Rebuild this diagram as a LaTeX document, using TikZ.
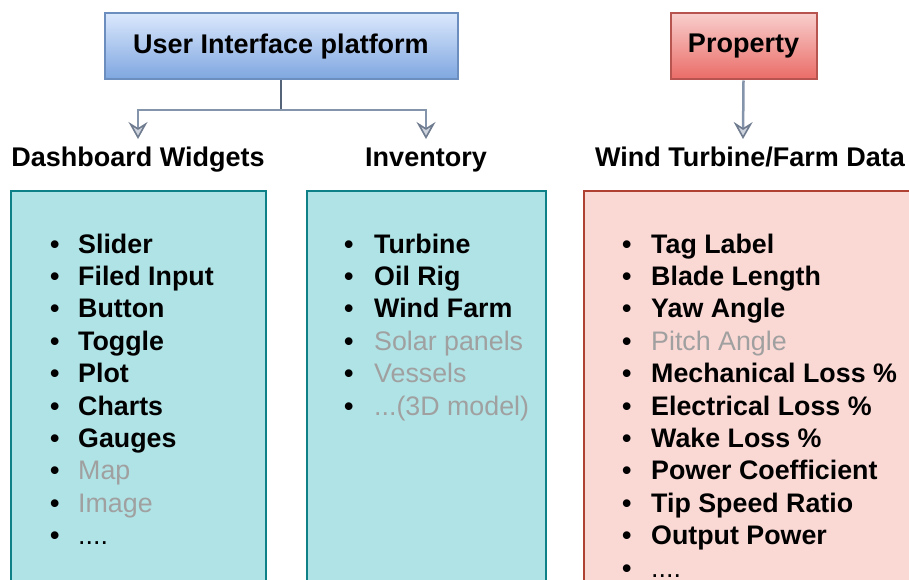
\documentclass[tikz,border=0pt]{standalone}
\usepackage{fontspec}
\setmainfont{Liberation Sans}
\usetikzlibrary{arrows.meta}
\definecolor{blueTop}{HTML}{DAE8FC}
\definecolor{blueBot}{HTML}{7EA6E0}
\definecolor{blueLine}{HTML}{6C8EBF}
\definecolor{redTop}{HTML}{F8CECC}
\definecolor{redBot}{HTML}{EA6B66}
\definecolor{redLine}{HTML}{B85450}
\definecolor{tealFill}{HTML}{B0E3E6}
\definecolor{tealLine}{HTML}{0E8088}
\definecolor{pinkFill}{HTML}{FAD9D5}
\definecolor{pinkLine}{HTML}{AE4132}
\definecolor{linkCol}{HTML}{8494AB}
\definecolor{linkDark}{HTML}{56647A}
\definecolor{dimText}{HTML}{A0A0A0}
\tikzset{
  headbox/.style={draw, line width=2pt, minimum height=66pt, inner sep=0pt,
    font=\fontsize{27}{30}\bfseries\selectfont},
  colhead/.style={font=\fontsize{27}{30}\bfseries\selectfont, anchor=base, inner sep=0pt},
  listpanel/.style={line width=1.3pt},
  item/.style={anchor=base west, inner sep=0pt, font=\fontsize{26.8}{30}\bfseries\selectfont},
  dimitem/.style={anchor=base west, inner sep=0pt, font=\fontsize{26.8}{30}\selectfont, text=dimText},
  link/.style={draw=linkCol, line width=2.5pt,
    -{Stealth[length=17pt, width=19pt, inset=6pt, fill=linkCol!40, color=linkDark!85, line width=1.6pt]}},
}
\begin{document}
\begin{tikzpicture}[x=1pt, y=-1pt]
\useasboundingbox (0,0) rectangle (909,580);

% top level boxes
\node[headbox, minimum width=353pt, top color=blueTop, bottom color=blueBot, draw=blueLine]
  (ui) at (281,46.5) {User Interface platform};
\node[headbox, minimum width=146pt, top color=redTop, bottom color=redBot, draw=redLine]
  (prop) at (743.5,46.5) {Property};

% list panels
\fill[tealFill] (11,191) rectangle (266,590);
\draw[tealLine, listpanel] (11,590) -- (11,191) -- (266,191) -- (266,590);
\fill[tealFill] (307,191) rectangle (546,590);
\draw[tealLine, listpanel] (307,590) -- (307,191) -- (546,191) -- (546,590);
\fill[pinkFill] (584,191) rectangle (915,590);
\draw[pinkLine, listpanel] (584,590) -- (584,191) -- (915,191);

% column headings
\node[colhead] (hdash) at (138,167) {Dashboard Widgets};
\node[colhead] (hinv) at (426,167) {Inventory};
\node[colhead] (hwind) at (750,167) {Wind Turbine/Farm Data};

% connectors
\coordinate (split) at (281,110);
\coordinate (aDash) at (138,139);
\coordinate (aInv) at (426,139);
\coordinate (aWind) at (743,139);
\draw[draw=linkDark, line width=2.5pt] (ui.south) -- (split);
\draw[link] (split) -| (aDash);
\draw[link] (split) -| (aInv);
\draw[link] (prop.south) -- (aWind);

% widget list
\foreach \t [count=\i] in {Slider,Filed Input,Button,Toggle,Plot,Charts,Gauges}{
  \node[item] (wb\i) at (50,{253+32.4*(\i-1)}) {\textbullet};
  \node[item] (wt\i) at (78,{253+32.4*(\i-1)}) {\t};
}
\foreach \t [count=\i from 8] in {Map,Image}{
  \node[item] (wb\i) at (50,{253+32.4*(\i-1)}) {\textbullet};
  \node[dimitem] (wt\i) at (78,{253+32.4*(\i-1)}) {\t};
}
\node[item] (wb10) at (50,{253+32.4*9}) {\textbullet};
\node[item, font=\fontsize{26.8}{30}\selectfont] (wt10) at (78,{253+32.4*9}) {....};

% inventory list
\foreach \t [count=\i] in {Turbine,Oil Rig,Wind Farm}{
  \node[item] (ib\i) at (344,{253+32.4*(\i-1)}) {\textbullet};
  \node[item] (it\i) at (374,{253+32.4*(\i-1)}) {\t};
}
\foreach \t [count=\i from 4] in {Solar panels,Vessels}{
  \node[item] (ib\i) at (344,{253+32.4*(\i-1)}) {\textbullet};
  \node[dimitem] (it\i) at (374,{253+32.4*(\i-1)}) {\t};
}
\node[item] (ib6) at (344,{253+32.4*5}) {\textbullet};
\node[dimitem] (it6) at (374,{253+32.4*5}) {...(3D model)};

% property list
\foreach \t [count=\i] in {Tag Label,Blade Length,Yaw Angle}{
  \node[item] (pb\i) at (622,{253+32.4*(\i-1)}) {\textbullet};
  \node[item] (pt\i) at (651,{253+32.4*(\i-1)}) {\t};
}
\node[item] (pb4) at (622,{253+32.4*3}) {\textbullet};
\node[dimitem] (pt4) at (651,{253+32.4*3}) {Pitch Angle};
\foreach \t [count=\i from 5] in {Mechanical Loss \%,Electrical Loss \%,Wake Loss \%,Power Coefficient,Tip Speed Ratio,Output Power}{
  \node[item] (pb\i) at (622,{253+32.4*(\i-1)}) {\textbullet};
  \node[item] (pt\i) at (651,{253+32.4*(\i-1)}) {\t};
}
\node[item] (pb11) at (622,{253+32.4*10}) {\textbullet};
\node[item, font=\fontsize{26.8}{30}\selectfont] (pt11) at (651,{253+32.4*10}) {....};
\end{tikzpicture}
\end{document}
